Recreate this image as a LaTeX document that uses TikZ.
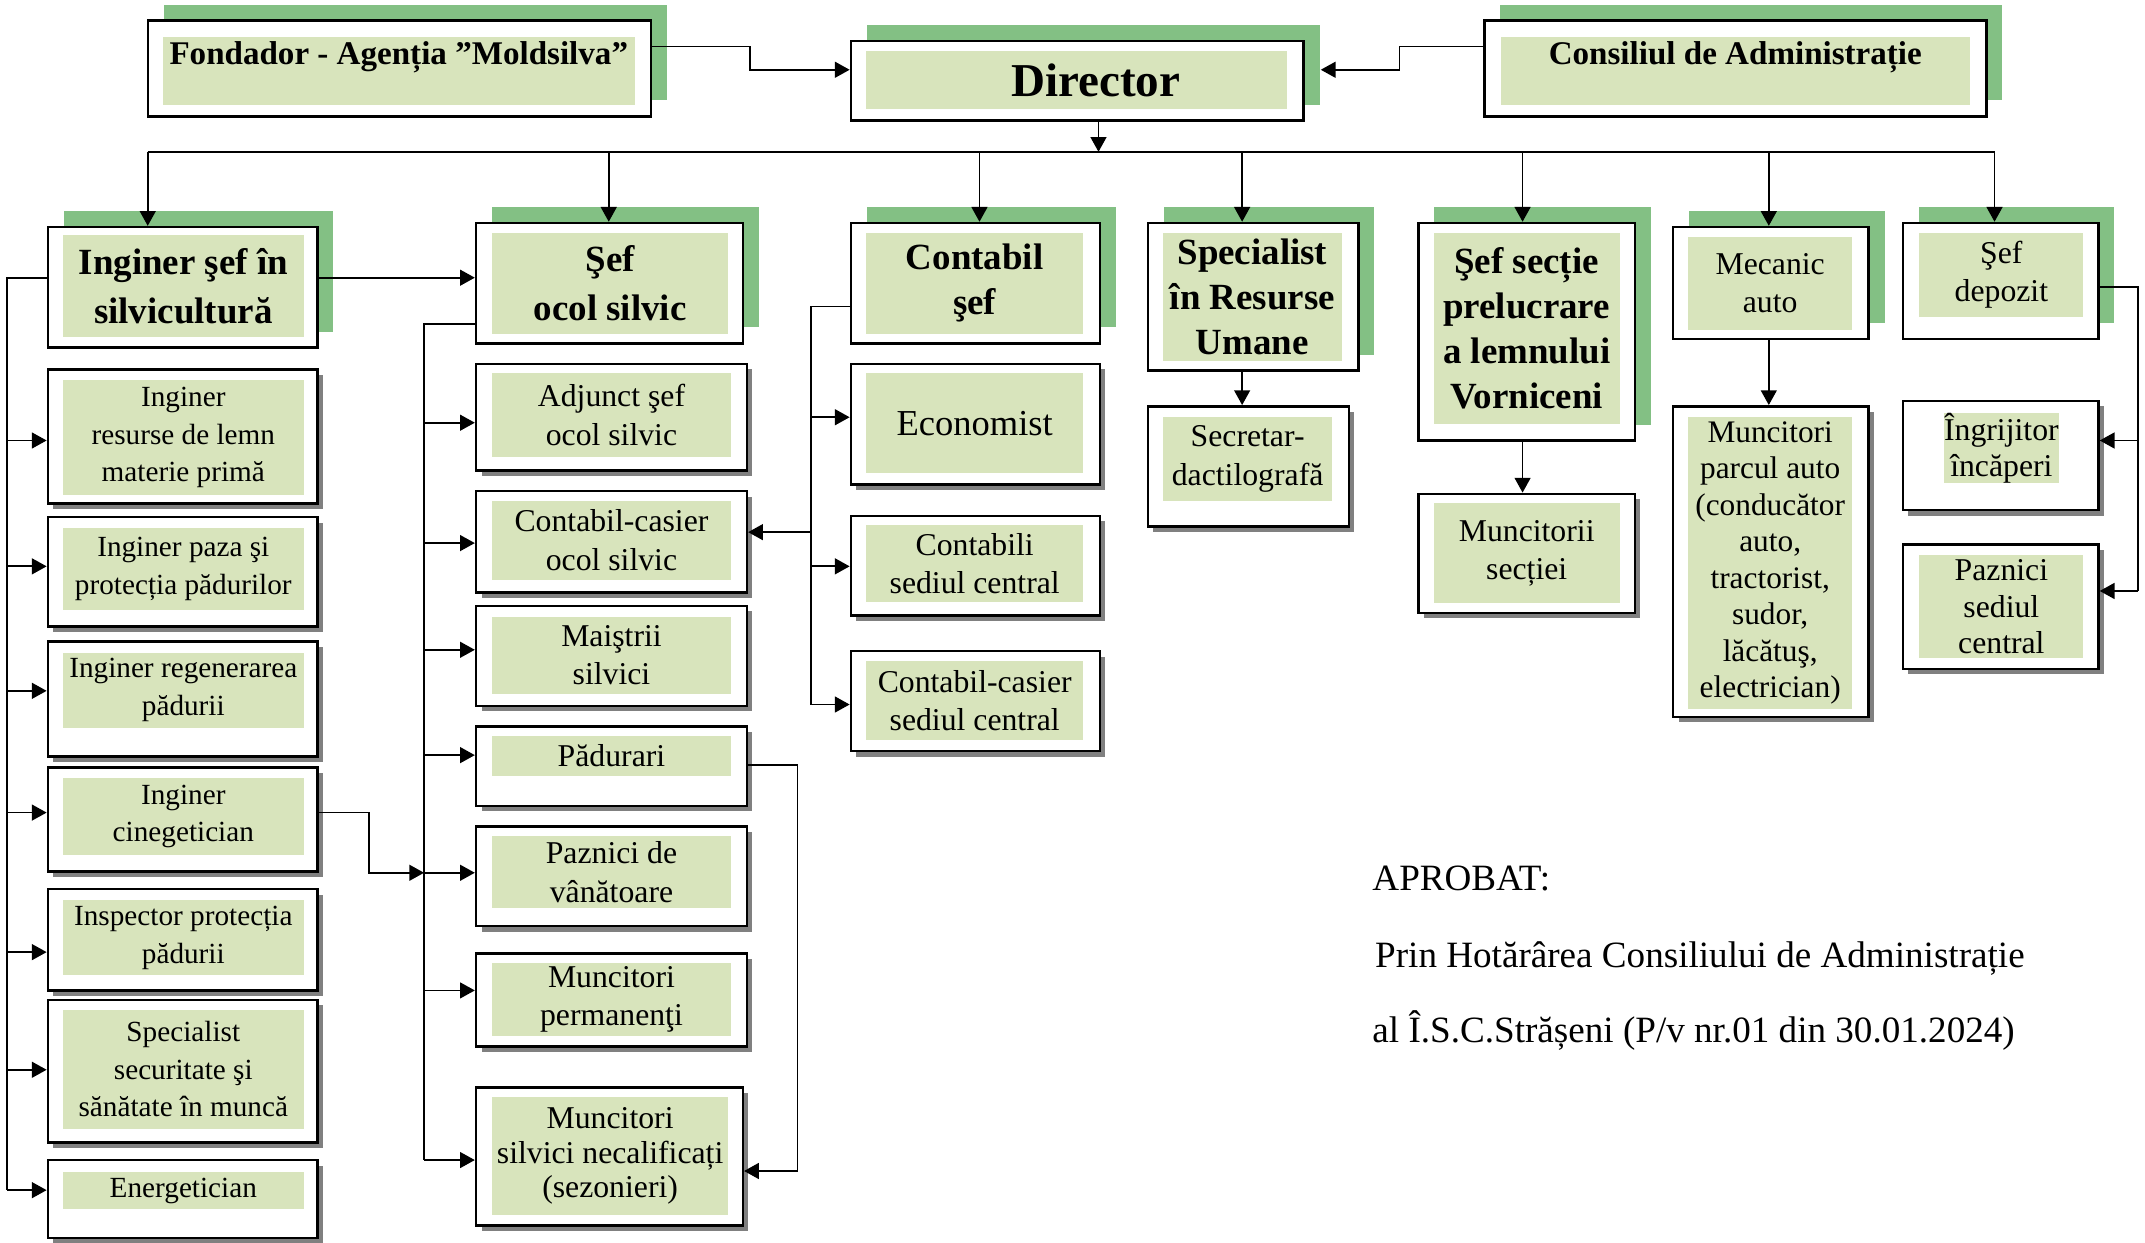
\documentclass[tikz,border=0pt]{standalone}
\usepackage{fontspec}
\setmainfont{Liberation Serif}
\usetikzlibrary{arrows.meta,shadows}
\definecolor{cellgreen}{RGB}{216,228,188}
\definecolor{leafgreen}{RGB}{131,192,132}
\definecolor{shadegray}{RGB}{128,128,128}
\newlength{\pu}
\setlength{\pu}{0.25mm}
\tikzset{
  frame/.style={rectangle, draw=black, line width=0.45mm, fill=white, inner sep=0pt},
  headframe/.style={frame, drop shadow={shadow xshift=2.9mm, shadow yshift=2.9mm, fill=leafgreen, opacity=1}},
  subframe/.style={frame, drop shadow={shadow xshift=1mm, shadow yshift=-1mm, fill=shadegray, opacity=1}},
  cell/.style={rectangle, fill=cellgreen, inner sep=0pt, align=center, font=\fontsize{15.2}{19.5}\selectfont},
  midcell/.style={cell, font=\fontsize{16.5}{20}\selectfont},
  headcell/.style={cell, font=\bfseries\fontsize{19.2}{23.5}\selectfont},
  toptext/.style={cell, font=\bfseries\fontsize{17.2}{21}\selectfont, text height=5.1mm, text depth=7.4mm},
  note/.style={anchor=base west, inner sep=0pt, font=\fontsize{19.3}{23}\selectfont},
  wire/.style={line width=0.32mm},
  arr/.style={wire, -{Triangle[length=2.7mm,width=2.9mm]}}
}
\begin{document}
\begin{tikzpicture}[x=0.25mm,y=0.25mm]
\useasboundingbox (0,0) rectangle (1568,-908);
% top row
\node[headframe, minimum width=368\pu, minimum height=70\pu] (fond) at (292,-50) {};
\node[toptext, minimum width=345\pu] (fond-t) at (291.5,-52) {Fondador - Agenția ”Moldsilva”};
\node[headframe, minimum width=331\pu, minimum height=58\pu] (dir) at (787.5,-59) {};
\node[headcell, font=\bfseries\fontsize{24.5}{28}\selectfont, minimum width=308\pu, minimum height=43\pu] (dir-t) at (787,-58.5) {\hspace*{7mm}Director};
\node[headframe, minimum width=367\pu, minimum height=70\pu] (cons) at (1268.5,-50) {};
\node[toptext, minimum width=343\pu] (cons-t) at (1268.5,-52) {Consiliul de Administrație};
% second row
\node[headframe, minimum width=197\pu, minimum height=88\pu] (isl) at (133.5,-210) {};
\node[headcell, font=\bfseries\fontsize{19.2}{25.6}\selectfont, minimum width=176\pu, minimum height=74\pu] (isl-t) at (134,-209) {Inginer şef în\\silvicultură};
\node[headframe, minimum width=195\pu, minimum height=88\pu] (sos) at (445.5,-207) {};
\node[headcell, font=\bfseries\fontsize{19.2}{25.6}\selectfont, minimum width=172\pu, minimum height=74\pu] (sos-t) at (446,-207) {Şef\\ocol silvic};
\node[headframe, minimum width=182\pu, minimum height=88\pu] (csef) at (713,-207) {};
\node[headcell, minimum width=159\pu, minimum height=74\pu] (csef-t) at (712.5,-207) {Contabil\\şef};
\node[headframe, minimum width=154\pu, minimum height=108\pu] (sru) at (916,-217) {};
\node[headcell, minimum width=131\pu, minimum height=94\pu] (sru-t) at (915.5,-217) {Specialist\\în Resurse\\Umane};
\node[headframe, minimum width=158\pu, minimum height=159\pu] (ssp) at (1116,-242.5) {};
\node[headcell, minimum width=136\pu, minimum height=140\pu] (ssp-t) at (1116,-240) {Şef secție\\prelucrare\\a lemnului\\Vorniceni};
\node[headframe, minimum width=143\pu, minimum height=82\pu] (mec) at (1294.5,-207) {};
\node[midcell, minimum width=120\pu, minimum height=68\pu] (mec-t) at (1294,-207) {Mecanic\\auto};
\node[headframe, minimum width=143\pu, minimum height=85\pu] (sdep) at (1462.5,-205.5) {};
\node[midcell, minimum width=120\pu, minimum height=62\pu] (sdep-t) at (1463,-201) {Şef\\depozit};
% left column
\node[subframe, minimum width=197\pu, minimum height=98\pu] (irl) at (133.5,-319) {};
\node[cell, minimum width=176\pu, minimum height=84\pu] (irl-t) at (134,-320) {Inginer\\resurse de lemn\\materie primă};
\node[subframe, minimum width=197\pu, minimum height=80\pu] (ipp) at (133.5,-418) {};
\node[cell, minimum width=176\pu, minimum height=60\pu] (ipp-t) at (134,-416) {Inginer paza şi\\protecția pădurilor};
\node[subframe, minimum width=197\pu, minimum height=84\pu] (irp) at (133.5,-511) {};
\node[cell, minimum width=176\pu, minimum height=55\pu] (irp-t) at (134,-504.5) {Inginer regenerarea\\pădurii};
\node[subframe, minimum width=197\pu, minimum height=76\pu] (icg) at (133.5,-599) {};
\node[cell, minimum width=176\pu, minimum height=56\pu] (icg-t) at (134,-597) {Inginer\\cinegetician};
\node[subframe, minimum width=197\pu, minimum height=74\pu] (ipr) at (133.5,-687) {};
\node[cell, minimum width=176\pu, minimum height=55\pu] (ipr-t) at (134,-685.5) {Inspector protecția\\pădurii};
\node[subframe, minimum width=197\pu, minimum height=104\pu] (sss) at (133.5,-783) {};
\node[cell, minimum width=176\pu, minimum height=87\pu] (sss-t) at (134,-781.5) {Specialist\\securitate şi\\sănătate în muncă};
\node[subframe, minimum width=197\pu, minimum height=57\pu] (ene) at (133.5,-876.5) {};
\node[cell, minimum width=176\pu, minimum height=27\pu] (ene-t) at (134,-870.5) {Energetician};
% middle column
\node[subframe, minimum width=198\pu, minimum height=78\pu] (adj) at (447,-305) {};
\node[midcell, minimum width=174\pu, minimum height=61\pu] (adj-t) at (447,-303.5) {Adjunct şef\\ocol silvic};
\node[subframe, minimum width=198\pu, minimum height=74\pu] (ccos) at (447,-396) {};
\node[midcell, minimum width=174\pu, minimum height=58\pu] (ccos-t) at (447,-395) {Contabil-casier\\ocol silvic};
\node[subframe, minimum width=198\pu, minimum height=73\pu] (mai) at (447,-479.5) {};
\node[midcell, minimum width=174\pu, minimum height=56\pu] (mai-t) at (447,-479) {Maiştrii\\silvici};
\node[subframe, minimum width=198\pu, minimum height=58\pu] (pad) at (447,-560) {};
\node[midcell, minimum width=174\pu, minimum height=29\pu] (pad-t) at (447,-552.5) {Pădurari};
\node[subframe, minimum width=198\pu, minimum height=73\pu] (pzv) at (447,-640.5) {};
\node[midcell, minimum width=174\pu, minimum height=53\pu] (pzv-t) at (447,-637.5) {Paznici de\\vânătoare};
\node[subframe, minimum width=198\pu, minimum height=68\pu] (mpe) at (447,-731) {};
\node[midcell, minimum width=174\pu, minimum height=53\pu] (mpe-t) at (447,-730.5) {Muncitori\\permanenţi};
\node[subframe, minimum width=195\pu, minimum height=101\pu] (msn) at (445.5,-845.5) {};
\node[midcell, font=\fontsize{16.5}{18}\selectfont, minimum width=172\pu, minimum height=86\pu] (msn-t) at (446,-845) {Muncitori\\silvici necalificați\\(sezonieri)};
% accounting column
\node[subframe, minimum width=182\pu, minimum height=88\pu] (eco) at (713,-310) {};
\node[cell, font=\fontsize{19}{22}\selectfont, minimum width=159\pu, minimum height=73\pu] (eco-t) at (712.5,-309.5) {Economist};
\node[subframe, minimum width=182\pu, minimum height=73\pu] (csc) at (713,-413.5) {};
\node[midcell, minimum width=159\pu, minimum height=56\pu] (csc-t) at (712.5,-412) {Contabili\\sediul central};
\node[subframe, minimum width=182\pu, minimum height=73\pu] (ccsc) at (713,-512.5) {};
\node[midcell, minimum width=159\pu, minimum height=58\pu] (ccsc-t) at (712.5,-512) {Contabil-casier\\sediul central};
% right part
\node[subframe, minimum width=147\pu, minimum height=88\pu] (sec) at (912.5,-341) {};
\node[midcell, minimum width=124\pu, minimum height=61\pu] (sec-t) at (912,-335.5) {Secretar-\\dactilografă};
\node[subframe, minimum width=158\pu, minimum height=87\pu] (mst) at (1116,-404.5) {};
\node[midcell, minimum width=136\pu, minimum height=73\pu] (mst-t) at (1116,-404.5) {Muncitorii\\secției};
\node[subframe, minimum width=143\pu, minimum height=227\pu] (mpa) at (1294.5,-410.5) {};
\node[midcell, font=\fontsize{16.3}{19}\selectfont, minimum width=120\pu, minimum height=213\pu] (mpa-t) at (1294,-411.5) {Muncitori\\parcul auto\\(conducător\\auto,\\tractorist,\\sudor,\\lăcătuş,\\electrician)};
\node[subframe, minimum width=143\pu, minimum height=80\pu] (ingr) at (1462.5,-333) {};
\node[midcell, font=\fontsize{16.5}{18.5}\selectfont] (ingr-t) at (1463,-327.5) {Îngrijitor\\încăperi};
\node[subframe, minimum width=143\pu, minimum height=91\pu] (pzs) at (1462.5,-443.5) {};
\node[midcell, font=\fontsize{16.5}{19.2}\selectfont, minimum width=120\pu, minimum height=75\pu] (pzs-t) at (1463,-443.5) {Paznici\\sediul\\central};
% approval note
\node[note] (aprob) at (1003,-651) {APROBAT:};
\node[note] (hot) at (1005,-707) {Prin Hotărârea Consiliului de Administrație};
\node[note] (isc) at (1003,-762) {al Î.S.C.Strășeni (P/v nr.01 din 30.01.2024)};
% connectors
\coordinate (dir-sh) at ([xshift=2.9mm]dir.east);
\draw[arr] (fond.east |- 0,-34) -| (548,-51) -- (dir.west |- 0,-51);
\draw[arr] (cons.west |- 0,-34) -| (1023,-51) -- (dir-sh |- 0,-51);
\coordinate (bus) at (803,-111);
\draw[arr] (dir.south -| bus) -- (bus);
\draw[wire] (108,-111) -- (1458,-111);
\foreach \x/\n in {108/isl,445/sos,716/csef,908/sru,1113/ssp,1293/mec,1458/sdep}
  \draw[arr] (\x,-111) -- (\n.north -| \x,0);
% silvicultura
\draw[arr] (isl.east |- 0,-203) -- (sos.west |- 0,-203);
\draw[wire] (isl.west |- 0,-203) -- (5,-203) -- (5,-870);
\foreach \n/\y in {irl/322,ipp/414,irp/505,icg/594,ipr/696,sss/782,ene/870}
  \draw[arr] (5,-\y) -- (\n.west |- 0,-\y);
% ocol silvic
\draw[wire] (sos.west |- 0,-237) -- (310,-237) -- (310,-848);
\foreach \n/\y in {adj/309,ccos/397,mai/475,pad/552,pzv/638,mpe/724,msn/848}
  \draw[arr] (310,-\y) -- (\n.west |- 0,-\y);
\draw[arr] (icg.east |- 0,-594) -| (270,-638) -- (310,-638);
\draw[arr] (pad.east |- 0,-559) -| (583,-856) -- (msn.east |- 0,-856);
% contabil
\draw[wire] (csef.west |- 0,-224) -- (593,-224) -- (593,-515);
\foreach \n/\y in {eco/305,csc/414,ccsc/515}
  \draw[arr] (593,-\y) -- (\n.west |- 0,-\y);
\draw[arr] (593,-389) -- (ccos.east |- 0,-389);
% the other sections
\draw[arr] (sru.south -| 908,0) -- (sec.north -| 908,0);
\draw[arr] (ssp.south -| 1113,0) -- (mst.north -| 1113,0);
\draw[arr] (mec.south -| 1293,0) -- (mpa.north -| 1293,0);
\draw[wire] (sdep.east |- 0,-210) -- (1563,-210) -- (1563,-432);
\foreach \n/\y in {ingr/322,pzs/432}
  \draw[arr] (1563,-\y) -- (\n.east |- 0,-\y);
\end{tikzpicture}
\end{document}
